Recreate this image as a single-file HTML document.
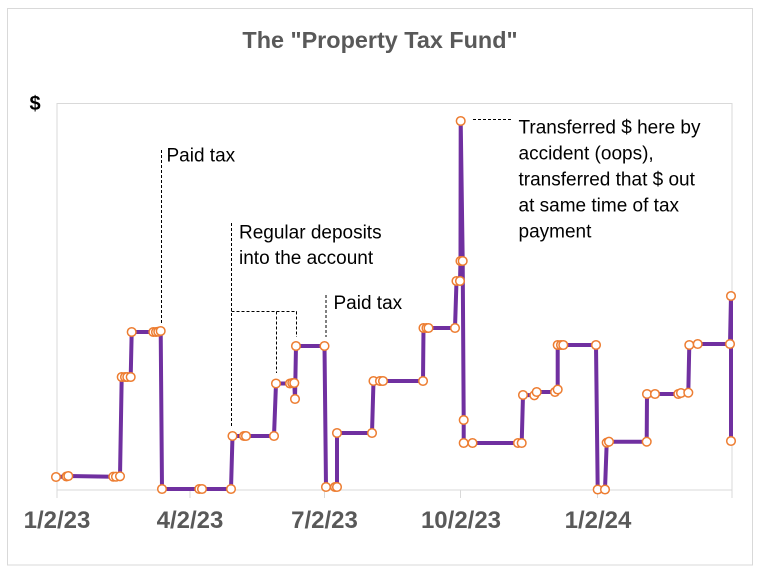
<!DOCTYPE html>
<html>
<head>
<meta charset="utf-8">
<style>
html,body{margin:0;padding:0;background:#fff;}
svg{display:block;}
</style>
</head>
<body>
<svg width="760" height="571" viewBox="0 0 760 571" xmlns="http://www.w3.org/2000/svg">
<rect x="0" y="0" width="760" height="571" fill="#ffffff"/>
<rect x="7.5" y="8.5" width="745" height="556.5" fill="none" stroke="#d9d9d9" stroke-width="1"/>
<text x="380" y="48" text-anchor="middle" font-family="'Liberation Sans', sans-serif" font-weight="bold" font-size="23.4" fill="#595959">The "Property Tax Fund"</text>
<text x="35" y="110" text-anchor="middle" font-family="'Liberation Sans', sans-serif" font-weight="bold" font-size="20" fill="#000">$</text>
<rect x="57" y="103.5" width="675" height="386.5" fill="none" stroke="#d9d9d9" stroke-width="1"/>
<g stroke="#d9d9d9" stroke-width="1">
<line x1="57" y1="490" x2="57" y2="498"/>
<line x1="190" y1="490" x2="190" y2="498"/>
<line x1="324.5" y1="490" x2="324.5" y2="498"/>
<line x1="460.5" y1="490" x2="460.5" y2="498"/>
<line x1="597.5" y1="490" x2="597.5" y2="498"/>
<line x1="732" y1="490" x2="732" y2="498"/>
</g>
<g font-family="'Liberation Sans', sans-serif" font-weight="bold" font-size="24" fill="#595959" text-anchor="middle">
<text x="57" y="528">1/2/23</text>
<text x="190" y="528">4/2/23</text>
<text x="324.5" y="528">7/2/23</text>
<text x="461" y="528">10/2/23</text>
<text x="598" y="528">1/2/24</text>
</g>
<g stroke="#000" stroke-width="1" stroke-dasharray="3,2" fill="none">
<line x1="161.5" y1="150" x2="161.5" y2="325"/>
<line x1="231.5" y1="223" x2="231.5" y2="427"/>
<line x1="231.5" y1="311.5" x2="297" y2="311.5"/>
<line x1="276.5" y1="311.5" x2="276.5" y2="373"/>
<line x1="296.5" y1="311.5" x2="296.5" y2="337"/>
<line x1="326" y1="295" x2="326" y2="337"/>
<line x1="473" y1="119.5" x2="512" y2="119.5"/>
</g>
<g font-family="'Liberation Sans', sans-serif" font-size="19" fill="#000">
<text x="166.5" y="161.5">Paid tax</text>
<text x="239" y="238.5">Regular deposits</text>
<text x="239" y="264">into the account</text>
<text x="333.5" y="309">Paid tax</text>
<text x="518.5" y="133.5">Transferred $ here by</text>
<text x="518.5" y="159.5">accident (oops),</text>
<text x="518.5" y="185.5">transferred that $ out</text>
<text x="518.5" y="211.5">at same time of tax</text>
<text x="518.5" y="237.5">payment</text>
</g>
<polyline fill="none" stroke="#7030A0" stroke-width="4" stroke-linejoin="round" points="56,477 66.5,476.5 68.3,476 113.3,476.7 116,476.7 120,476.3 121.7,377 125,377 127.3,377 130.7,377 131.7,332 153.3,332 156,332 158.3,331.7 160.7,331 162,489 199.3,489 202,489 231,489 232.5,436 244,436 246,436 274,436 276,383.5 290,383.5 292.3,383 294.3,383 295,399 296,346 324.5,346 326,487 335,487 337,487 337,433 372,433 373.5,381 380,381 383,381 423,381 423.5,328 426.5,328 428.5,328 455,328 456.5,281 460,281 460.5,261 460.7,121 462.7,261 463.7,420 463.7,443 472.5,443 518,443 521.7,443 523,395 534.3,395.3 536.7,392 555,392 557.7,389.5 557.7,345 561,345 563.3,345 596,345 597.7,489.5 605,489.5 606.7,442.7 609,441.7 646.7,441.7 647,394 655,394 678.3,394 681,393 688.3,392.7 689.3,345 697.7,344 730,344 731,296 731,441"/>
<g fill="#ffffff" stroke="#ED7D31" stroke-width="1.5">
<circle cx="56" cy="477" r="4.3"/>
<circle cx="66.5" cy="476.5" r="4.3"/>
<circle cx="68.3" cy="476" r="4.3"/>
<circle cx="113.3" cy="476.7" r="4.3"/>
<circle cx="116" cy="476.7" r="4.3"/>
<circle cx="120" cy="476.3" r="4.3"/>
<circle cx="121.7" cy="377" r="4.3"/>
<circle cx="125" cy="377" r="4.3"/>
<circle cx="127.3" cy="377" r="4.3"/>
<circle cx="130.7" cy="377" r="4.3"/>
<circle cx="131.7" cy="332" r="4.3"/>
<circle cx="153.3" cy="332" r="4.3"/>
<circle cx="156" cy="332" r="4.3"/>
<circle cx="158.3" cy="331.7" r="4.3"/>
<circle cx="160.7" cy="331" r="4.3"/>
<circle cx="162" cy="489" r="4.3"/>
<circle cx="199.3" cy="489" r="4.3"/>
<circle cx="202" cy="489" r="4.3"/>
<circle cx="231" cy="489" r="4.3"/>
<circle cx="232.5" cy="436" r="4.3"/>
<circle cx="244" cy="436" r="4.3"/>
<circle cx="246" cy="436" r="4.3"/>
<circle cx="274" cy="436" r="4.3"/>
<circle cx="276" cy="383.5" r="4.3"/>
<circle cx="290" cy="383.5" r="4.3"/>
<circle cx="292.3" cy="383" r="4.3"/>
<circle cx="294.3" cy="383" r="4.3"/>
<circle cx="295" cy="399" r="4.3"/>
<circle cx="296" cy="346" r="4.3"/>
<circle cx="324.5" cy="346" r="4.3"/>
<circle cx="326" cy="487" r="4.3"/>
<circle cx="335" cy="487" r="4.3"/>
<circle cx="337" cy="487" r="4.3"/>
<circle cx="337" cy="433" r="4.3"/>
<circle cx="372" cy="433" r="4.3"/>
<circle cx="373.5" cy="381" r="4.3"/>
<circle cx="380" cy="381" r="4.3"/>
<circle cx="383" cy="381" r="4.3"/>
<circle cx="423" cy="381" r="4.3"/>
<circle cx="423.5" cy="328" r="4.3"/>
<circle cx="426.5" cy="328" r="4.3"/>
<circle cx="428.5" cy="328" r="4.3"/>
<circle cx="455" cy="328" r="4.3"/>
<circle cx="456.5" cy="281" r="4.3"/>
<circle cx="460" cy="281" r="4.3"/>
<circle cx="460.5" cy="261" r="4.3"/>
<circle cx="460.7" cy="121" r="4.3"/>
<circle cx="462.7" cy="261" r="4.3"/>
<circle cx="463.7" cy="420" r="4.3"/>
<circle cx="463.7" cy="443" r="4.3"/>
<circle cx="472.5" cy="443" r="4.3"/>
<circle cx="518" cy="443" r="4.3"/>
<circle cx="521.7" cy="443" r="4.3"/>
<circle cx="523" cy="395" r="4.3"/>
<circle cx="534.3" cy="395.3" r="4.3"/>
<circle cx="536.7" cy="392" r="4.3"/>
<circle cx="555" cy="392" r="4.3"/>
<circle cx="557.7" cy="389.5" r="4.3"/>
<circle cx="557.7" cy="345" r="4.3"/>
<circle cx="561" cy="345" r="4.3"/>
<circle cx="563.3" cy="345" r="4.3"/>
<circle cx="596" cy="345" r="4.3"/>
<circle cx="597.7" cy="489.5" r="4.3"/>
<circle cx="605" cy="489.5" r="4.3"/>
<circle cx="606.7" cy="442.7" r="4.3"/>
<circle cx="609" cy="441.7" r="4.3"/>
<circle cx="646.7" cy="441.7" r="4.3"/>
<circle cx="647" cy="394" r="4.3"/>
<circle cx="655" cy="394" r="4.3"/>
<circle cx="678.3" cy="394" r="4.3"/>
<circle cx="681" cy="393" r="4.3"/>
<circle cx="688.3" cy="392.7" r="4.3"/>
<circle cx="689.3" cy="345" r="4.3"/>
<circle cx="697.7" cy="344" r="4.3"/>
<circle cx="730" cy="344" r="4.3"/>
<circle cx="731" cy="296" r="4.3"/>
<circle cx="731" cy="441" r="4.3"/>
</g>
</svg>
</body>
</html>
